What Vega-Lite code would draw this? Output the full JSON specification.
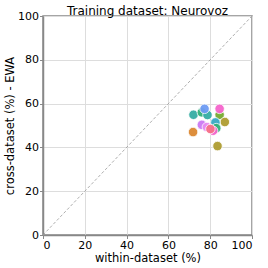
{
  "$schema": "https://vega.github.io/schema/vega-lite/v6.json",
  "width": 209,
  "height": 219,
  "autosize": "none",
  "padding": {"left": 43, "top": 16, "right": 16, "bottom": 33},
  "background": "white",
  "title": {"text": "Training dataset: Neurovoz", "fontSize": 12, "font": "DejaVu Sans", "fontWeight": "normal", "color": "black", "offset": 1, "frame": "group", "dy": 9},
  "config": {
    "view": {"stroke": "#888888", "strokeWidth": 1.5},
    "axis": {"labelFont": "DejaVu Sans", "titleFont": "DejaVu Sans", "labelFontSize": 11, "titleFontSize": 11.5, "titleFontWeight": "normal", "labelColor": "black", "titleColor": "black", "gridColor": "#dddddd", "gridWidth": 1, "domainColor": "#888888", "domainWidth": 1.5, "ticks": true, "tickSize": 3.5, "tickColor": "#888888", "tickWidth": 1, "labelPadding": 1}
  },
  "layer": [
    {
      "data": {"values": [{"a": 0, "b": 0}, {"a": 100, "b": 100}]},
      "mark": {"type": "line", "color": "#999999", "strokeDash": [3, 2], "strokeWidth": 0.8},
      "encoding": {
        "x": {"field": "a", "type": "quantitative", "scale": {"domain": [0, 100]}, "axis": {"title": "within-dataset (%)", "values": [0, 20, 40, 60, 80, 100], "titlePadding": 2}},
        "y": {"field": "b", "type": "quantitative", "scale": {"domain": [0, 100]}, "axis": {"title": "cross-dataset (%) - EWA", "values": [0, 20, 40, 60, 80, 100], "titlePadding": 2}}
      }
    },
    {
      "data": {"values": [
        {"model": "m1", "within": 72.0, "cross": 54.9},
        {"model": "m2", "within": 76.0, "cross": 56.0},
        {"model": "m3", "within": 78.7, "cross": 54.8},
        {"model": "m4", "within": 84.5, "cross": 54.9},
        {"model": "m5", "within": 87.0, "cross": 51.6},
        {"model": "m6", "within": 82.5, "cross": 51.4},
        {"model": "m7", "within": 82.9, "cross": 48.8},
        {"model": "m8", "within": 76.0, "cross": 50.3},
        {"model": "m9", "within": 78.4, "cross": 49.3},
        {"model": "m10", "within": 81.4, "cross": 47.6},
        {"model": "m11", "within": 80.1, "cross": 48.4},
        {"model": "m12", "within": 71.8, "cross": 47.0},
        {"model": "m13", "within": 83.5, "cross": 40.6},
        {"model": "m14", "within": 77.3, "cross": 57.6},
        {"model": "m15", "within": 84.5, "cross": 57.6}
      ]},
      "mark": {"type": "point", "filled": true, "opacity": 0.95, "stroke": "white", "strokeWidth": 0.8, "size": 90},
      "encoding": {
        "x": {"field": "within", "type": "quantitative"},
        "y": {"field": "cross", "type": "quantitative"},
        "color": {"field": "model", "type": "nominal", "legend": null,
          "scale": {"domain": ["m1","m2","m3","m4","m5","m6","m7","m8","m9","m10","m11","m12","m13","m14","m15"],
                    "range": ["#36ada4","#33b07a","#36ada4","#77ab31","#ae9d31","#38a9c5","#33b07a","#cc7af4","#e88bf0","#f565cc","#f77189","#dc8932","#ae9d31","#6e9bf4","#f565cc"]}}
      }
    }
  ]
}
